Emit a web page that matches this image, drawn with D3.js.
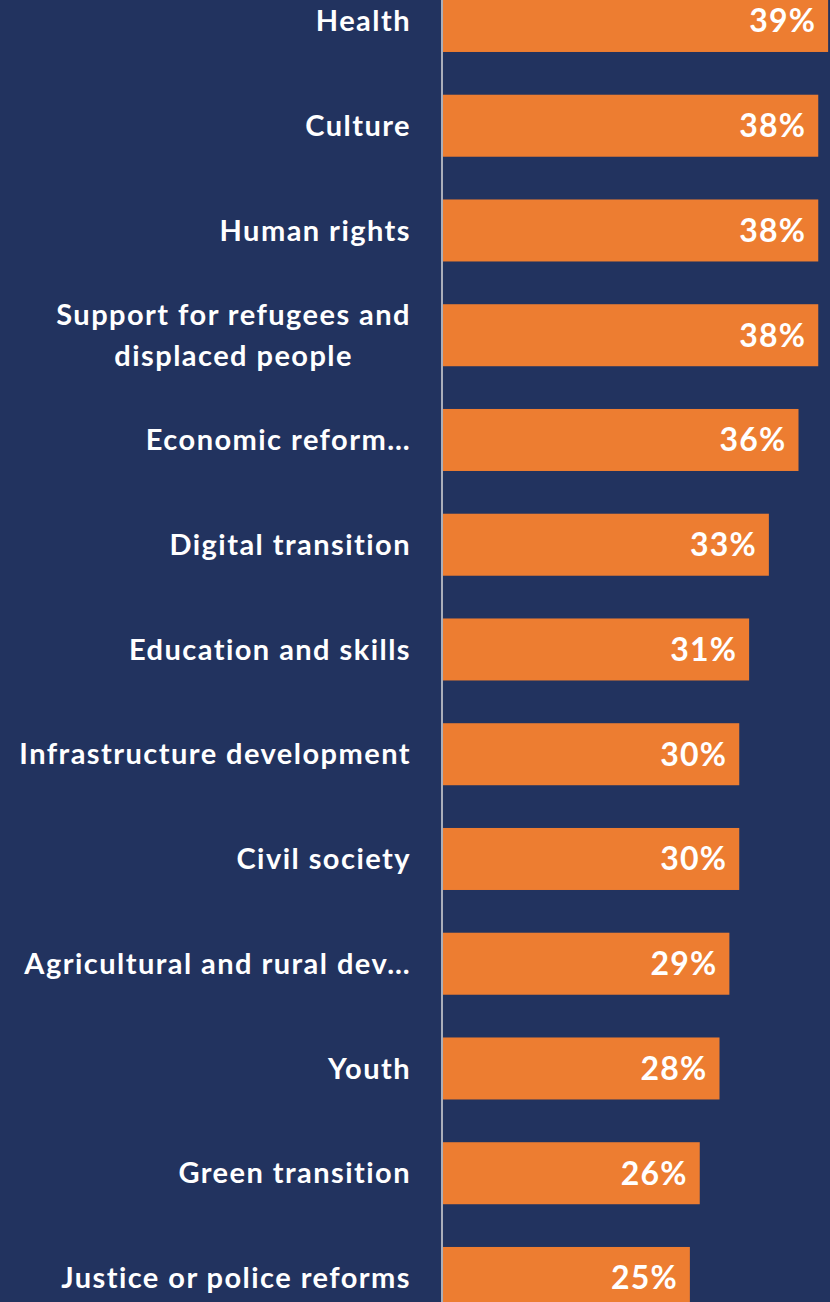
<!DOCTYPE html>
<html><head><meta charset="utf-8">
<script src="https://cdn.jsdelivr.net/npm/d3@7"></script>
<style>html,body{margin:0;padding:0;background:#22335F;overflow:hidden}</style>
</head><body><svg id="c" width="830" height="1302"></svg>
<script>
const categories = ["Health","Culture","Human rights","Support for refugees and\ndisplaced people","Economic reform…","Digital transition","Education and skills","Infrastructure development","Civil society","Agricultural and rural dev…","Youth","Green transition","Justice or police reforms"];
const values = [39,38,38,38,36,33,31,30,30,29,28,26,25];
const valueLabels = ["39%","38%","38%","38%","36%","33%","31%","30%","30%","29%","28%","26%","25%"];

const W=830,H=1302;
const svg=d3.select("#c");
svg.append("rect").attr("width",W).attr("height",H).attr("fill","#22335F");
const y=d3.scaleBand().domain(categories).range([-31.4,-31.4+13*104.75]).paddingInner(0.408).paddingOuter(0.204);
const x=d3.scaleLinear().domain([0,40]).range([443,838]);
const data=categories.map((c,i)=>({c,v:values[i],l:valueLabels[i]}));
const font="Lato, 'Open Sans', sans-serif";
svg.selectAll("rect.bar").data(data).join("rect").attr("class","bar")
 .attr("x",x(0)).attr("y",d=>y(d.c)).attr("width",d=>x(d.v)-x(0)).attr("height",y.bandwidth()).attr("fill","#ED7D31");
svg.append("line").attr("x1",442).attr("x2",442).attr("y1",0).attr("y2",H).attr("stroke","#D9D9D9").attr("stroke-width",1.5);
svg.selectAll("text.val").data(data).join("text").attr("class","val")
 .attr("x",d=>x(d.v)-12).attr("y",d=>y(d.c)+y.bandwidth()/2).attr("dy","0.36em")
 .attr("text-anchor","end").attr("fill","#fff").attr("font-family",font).attr("font-weight","bold").attr("font-size",32)
 .attr("letter-spacing","1.2px").text(d=>d.l);
const lab=svg.selectAll("text.cat").data(data).join("text").attr("class","cat")
 .attr("text-anchor","end").attr("fill","#fff").attr("font-family",font).attr("font-weight","bold").attr("font-size",29)
 .attr("letter-spacing","1.45px")
 .attr("transform",d=>`translate(411,${y(d.c)+y.bandwidth()/2})`);
lab.each(function(d){
  const lines=d.c.split("\n");
  const t=d3.select(this);
  const spans=lines.map((ln,i)=>t.append("tspan").attr("x",0).attr("y",(i-(lines.length-1)/2)*41).attr("dy","0.35em").text(ln));
  if(lines.length>1){
    const widths=spans.map(s=>s.node().getComputedTextLength());
    const mw=d3.max(widths);
    t.attr("text-anchor","middle");
    spans.forEach(s=>s.attr("x",-mw/2));
  }
});
</script></body></html>
